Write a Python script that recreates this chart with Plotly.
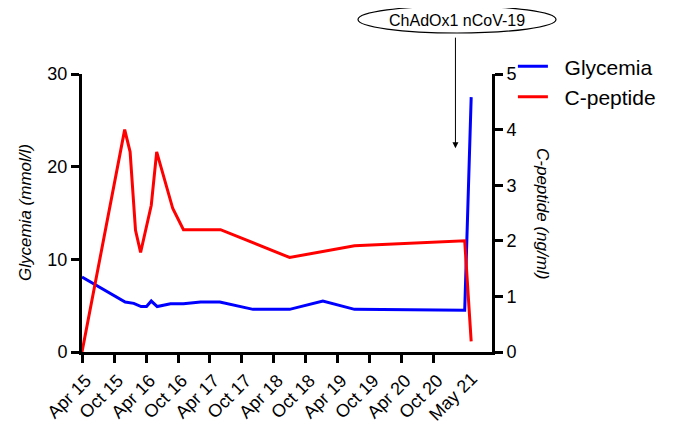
import plotly.graph_objects as go

# Glycemia (mmol/l), left axis
gly_dates = ["2015-04-01", "2015-12-04", "2016-01-22", "2016-03-04", "2016-04-04",
             "2016-05-01", "2016-06-04", "2016-08-19", "2016-11-01", "2017-02-07",
             "2017-05-28", "2017-12-04", "2018-07-01", "2019-01-07", "2019-07-07",
             "2021-03-28", "2021-05-04"]
gly_values = [8.1, 5.4, 5.25, 4.9, 4.9, 5.5, 4.9, 5.2, 5.2, 5.4, 5.4, 4.6, 4.6, 5.5, 4.6, 4.5, 27.5]

# C-peptide (ng/ml), right axis
cp_dates = ["2015-04-01", "2015-12-01", "2016-01-01", "2016-02-01", "2016-03-01",
            "2016-05-01", "2016-06-01", "2016-09-01", "2016-11-01", "2017-06-01",
            "2018-07-01", "2019-07-07", "2021-03-28", "2021-05-04"]
cp_values = [0.0, 4.0, 3.6, 2.19, 1.79, 2.64, 3.6, 2.58, 2.2, 2.2, 1.7, 1.91, 2.0, 0.19]

tick_dates = ["2015-04-01", "2015-10-01", "2016-04-01", "2016-10-01", "2017-04-01",
              "2017-10-01", "2018-04-01", "2018-10-01", "2019-04-01", "2019-10-01",
              "2020-04-01", "2020-10-01"]
tick_labels = ["Apr 15", "Oct 15", "Apr 16", "Oct 16", "Apr 17", "Oct 17", "Apr 18",
               "Oct 18", "Apr 19", "Oct 19", "Apr 20", "Oct 20"]
last_tick_date = ["2021-04-15"]
last_tick_label = ["May 21"]

vaccine_date = "2021-02-03"
vaccine_label = "ChAdOx1 nCoV-19"

x_range = ["2015-04-01", "2021-08-31"]

FONT = "Arial, Liberation Sans, sans-serif"
NB = "\u00a0\u00a0"

fig = go.Figure()
fig.add_trace(go.Scatter(x=gly_dates, y=gly_values, mode="lines", name=NB + "Glycemia",
                         line=dict(color="#0000FF", width=3), yaxis="y", xaxis="x"))
fig.add_trace(go.Scatter(x=cp_dates, y=cp_values, mode="lines", name=NB + "C-peptide",
                         line=dict(color="#FF0000", width=3), yaxis="y2", xaxis="x"))
fig.add_trace(go.Scatter(x=[], y=[], xaxis="x2", yaxis="y", showlegend=False,
                         hoverinfo="skip"))

axis_common = dict(showline=True, linecolor="black", linewidth=3, ticks="outside",
                   ticklen=8, tickwidth=2.5, tickcolor="black", showgrid=False,
                   zeroline=False, automargin=False,
                   tickfont=dict(family=FONT, size=18, color="black"))

# page has an 8px body margin: figure is 672x419 placed at (8, 8)
fig.update_layout(
    width=672, height=419,
    margin=dict(l=74, r=188, t=66, b=75, autoexpand=False),
    plot_bgcolor="white", paper_bgcolor="white",
    xaxis=dict(type="date", range=x_range, tickvals=tick_dates, ticktext=tick_labels,
               tickangle=-45, ticklabelshift=4, **axis_common),
    xaxis2=dict(type="date", range=x_range, overlaying="x", side="bottom",
                anchor="y", tickvals=last_tick_date, ticktext=last_tick_label,
                tickangle=-45, ticklabelshift=4, showline=False, showgrid=False,
                zeroline=False, ticks="outside", ticklen=8,
                tickcolor="rgba(0,0,0,0)", automargin=False,
                tickfont=dict(family=FONT, size=18, color="black")),
    yaxis=dict(range=[0, 30], tickvals=[0, 10, 20, 30], **axis_common),
    yaxis2=dict(range=[0, 5], tickvals=[0, 1, 2, 3, 4, 5], overlaying="y", side="right",
                anchor="x", **axis_common),
    legend=dict(x=1.051, y=1.1, xanchor="left", yanchor="top",
                font=dict(family=FONT, size=21, color="black"),
                itemwidth=30, bgcolor="rgba(0,0,0,0)", tracegroupgap=0),
    showlegend=True,
)

# axis titles
fig.add_annotation(text="<i>Glycemia (mmol/l)</i>", xref="paper", yref="paper",
                   x=0, y=0.5, xshift=-57, xanchor="center", yanchor="middle",
                   textangle=-90, showarrow=False,
                   font=dict(family=FONT, size=17, color="black"))
fig.add_annotation(text="<i>C-peptide (ng/ml)</i>", xref="paper", yref="paper",
                   x=1, y=0.5, xshift=51, xanchor="center", yanchor="middle",
                   textangle=90, showarrow=False,
                   font=dict(family=FONT, size=17, color="black"))

# vaccine marker
fig.add_annotation(x=vaccine_date, y=22.0, xref="x", yref="y", text="",
                   showarrow=True, ax=0, ay=-112, arrowhead=2, arrowsize=1.2,
                   arrowwidth=1, arrowcolor="black")
fig.add_shape(type="circle", xref="paper", yref="paper",
              x0=(358 - 82) / 410, x1=(556 - 82) / 410,
              y0=(352 - 33) / 278, y1=(352 - 6) / 278,
              line=dict(color="black", width=1.2), fillcolor="white", layer="above")
fig.add_annotation(text=vaccine_label, xref="paper", yref="paper",
                   x=(457 - 82) / 410, y=(352 - 20) / 278, xanchor="center",
                   yanchor="middle", showarrow=False,
                   font=dict(family=FONT, size=16, color="black"))

fig.write_html("out.html")
